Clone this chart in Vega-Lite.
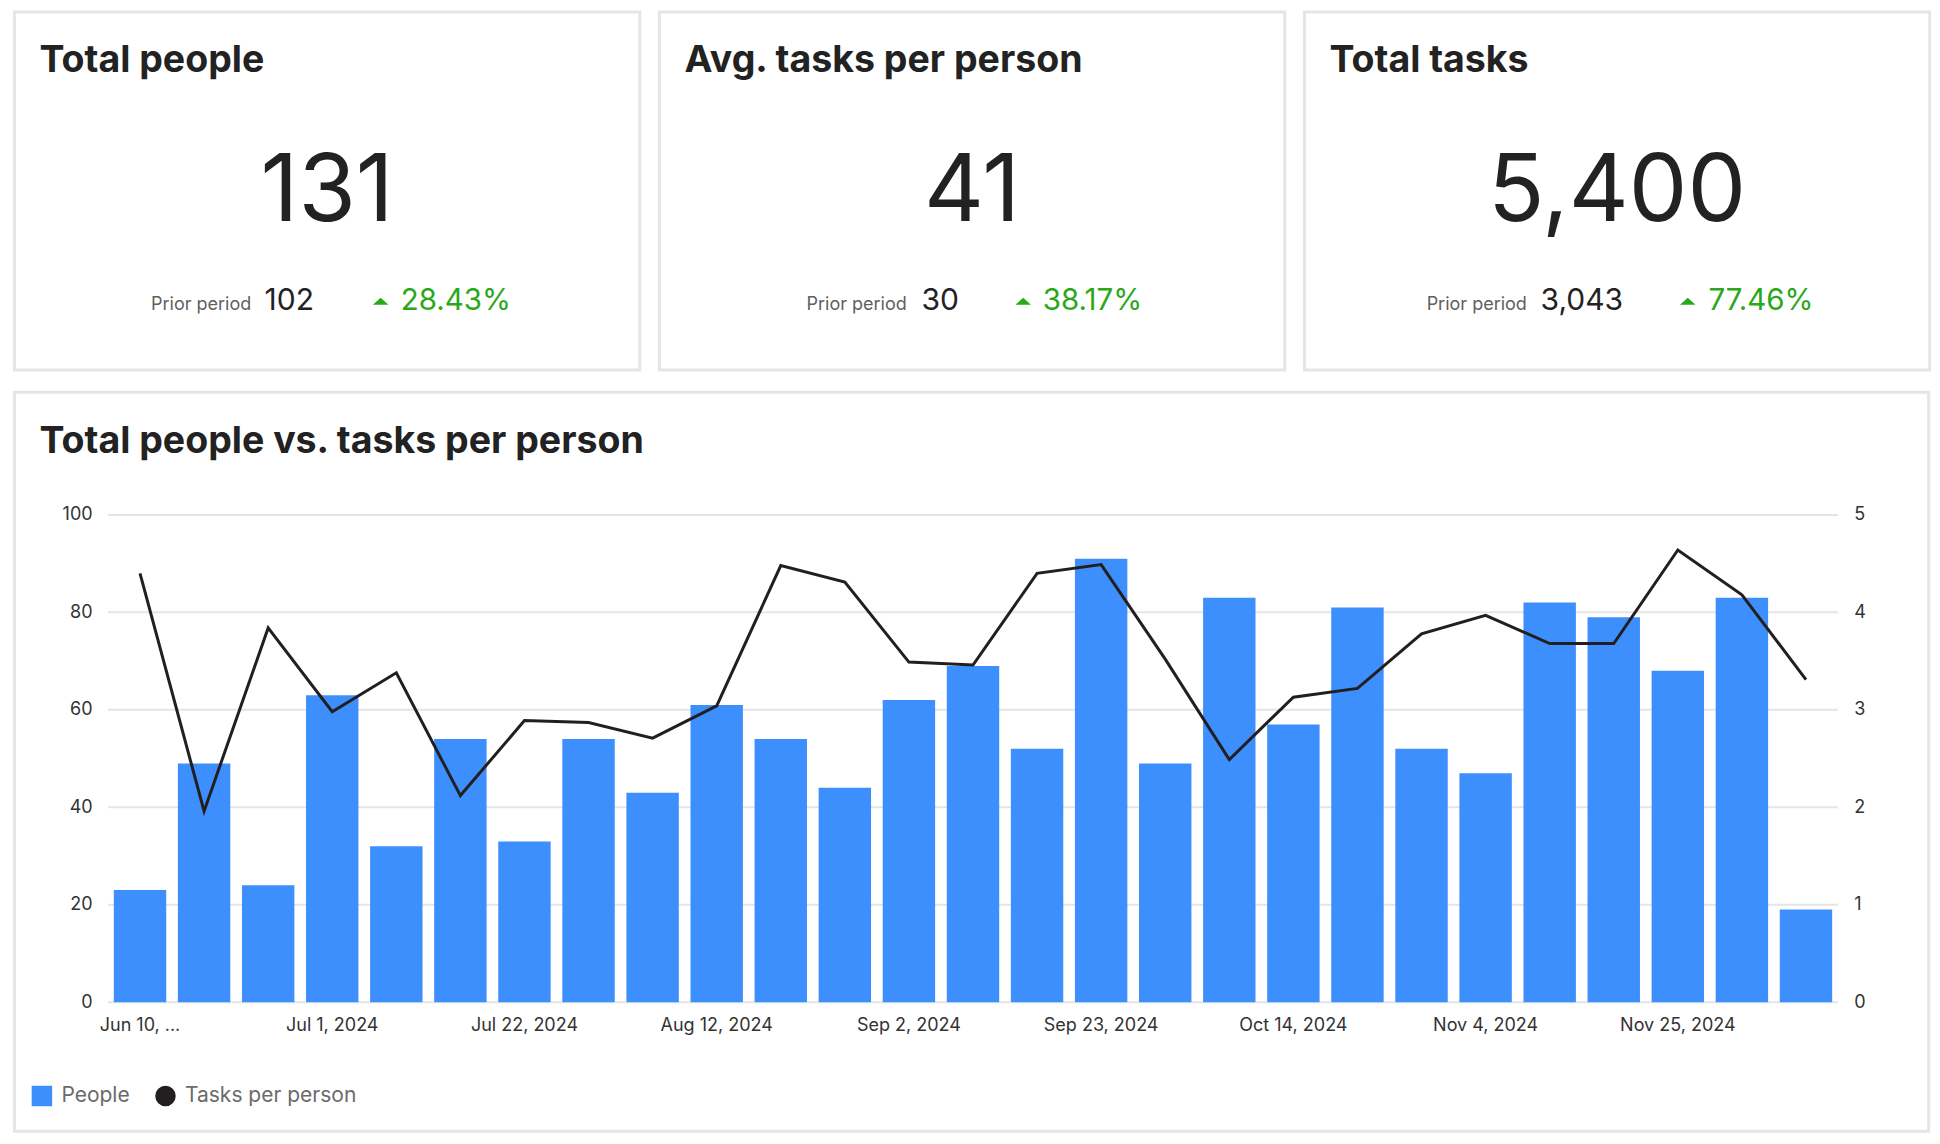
{
  "$schema": "https://vega.github.io/schema/vega-lite/v6.json",
  "background": "white",
  "padding": {"left": 12.4, "top": 9.9, "right": 0, "bottom": 0},
  "config": {
    "view": {"stroke": "#e5e5e5", "strokeWidth": 3},
    "font": "Inter",
    "text": {"font": "Inter"},
    "title": {"anchor": "start", "frame": "group", "offset": -68, "dx": 25, "font": "Inter", "fontSize": 37.5, "fontWeight": "bold", "color": "#222222"},
    "axis": {"labelFont": "Inter", "labelFontSize": 18, "labelColor": "#333333", "title": null, "grid": false, "ticks": false, "tickSize": 0, "domain": false, "zindex": 1}
  },
  "spacing": 18.3,
  "vconcat": [
    {
      "spacing": 16,
      "hconcat": [
        {
          "width": 625.4, "height": 358.2,
          "title": {"text": "Total people"},
          "data": {"values": [{"metric": "Total people", "current": "131", "prior": "102", "change": "28.43%"}]},
          "layer": [
            {"mark": {"type": "text", "fontSize": 93, "color": "#222222", "align": "center", "baseline": "alphabetic"},
             "encoding": {"x": {"datum": 0.5, "type": "quantitative", "scale": {"domain": [0, 1], "nice": false}, "axis": null},
                          "y": {"datum": 0.5827, "type": "quantitative", "scale": {"domain": [0, 1], "nice": false, "reverse": true}, "axis": null},
                          "text": {"field": "current"}}},
            {"mark": {"type": "text", "text": "Prior period", "fontSize": 18, "color": "#5f5f5f", "align": "right", "baseline": "alphabetic"},
             "encoding": {"x": {"datum": 0.3787, "type": "quantitative"}, "y": {"datum": 0.8327, "type": "quantitative"}}},
            {"mark": {"type": "text", "fontSize": 30, "color": "#222222", "align": "left", "baseline": "alphabetic"},
             "encoding": {"x": {"datum": 0.400, "type": "quantitative"}, "y": {"datum": 0.8327, "type": "quantitative"}, "text": {"field": "prior"}}},
            {"mark": {"type": "point", "shape": "M-1,0.45L0,-0.45L1,0.45Z", "filled": true, "color": "#2aa81a", "opacity": 1, "size": 240},
             "encoding": {"x": {"datum": 0.5856, "type": "quantitative"}, "y": {"datum": 0.8075, "type": "quantitative"}}},
            {"mark": {"type": "text", "fontSize": 29.5, "color": "#2aa81a", "align": "left", "baseline": "alphabetic"},
             "encoding": {"x": {"datum": 0.6176, "type": "quantitative"}, "y": {"datum": 0.8327, "type": "quantitative"}, "text": {"field": "change"}}}
          ]
        },
        {
          "width": 625.4, "height": 358.2,
          "title": {"text": "Avg. tasks per person"},
          "data": {"values": [{"metric": "Avg. tasks per person", "current": "41", "prior": "30", "change": "38.17%"}]},
          "layer": [
            {"mark": {"type": "text", "fontSize": 93, "color": "#222222", "align": "center", "baseline": "alphabetic"},
             "encoding": {"x": {"datum": 0.5, "type": "quantitative", "scale": {"domain": [0, 1], "nice": false}, "axis": null},
                          "y": {"datum": 0.5827, "type": "quantitative", "scale": {"domain": [0, 1], "nice": false, "reverse": true}, "axis": null},
                          "text": {"field": "current"}}},
            {"mark": {"type": "text", "text": "Prior period", "fontSize": 18, "color": "#5f5f5f", "align": "right", "baseline": "alphabetic"},
             "encoding": {"x": {"datum": 0.3955, "type": "quantitative"}, "y": {"datum": 0.8327, "type": "quantitative"}}},
            {"mark": {"type": "text", "fontSize": 30, "color": "#222222", "align": "left", "baseline": "alphabetic"},
             "encoding": {"x": {"datum": 0.419, "type": "quantitative"}, "y": {"datum": 0.8327, "type": "quantitative"}, "text": {"field": "prior"}}},
            {"mark": {"type": "point", "shape": "M-1,0.45L0,-0.45L1,0.45Z", "filled": true, "color": "#2aa81a", "opacity": 1, "size": 240},
             "encoding": {"x": {"datum": 0.5817, "type": "quantitative"}, "y": {"datum": 0.8075, "type": "quantitative"}}},
            {"mark": {"type": "text", "fontSize": 29.5, "color": "#2aa81a", "align": "left", "baseline": "alphabetic"},
             "encoding": {"x": {"datum": 0.613, "type": "quantitative"}, "y": {"datum": 0.8327, "type": "quantitative"}, "text": {"field": "change"}}}
          ]
        },
        {
          "width": 625.4, "height": 358.2,
          "title": {"text": "Total tasks"},
          "data": {"values": [{"metric": "Total tasks", "current": "5,400", "prior": "3,043", "change": "77.46%"}]},
          "layer": [
            {"mark": {"type": "text", "fontSize": 93, "color": "#222222", "align": "center", "baseline": "alphabetic"},
             "encoding": {"x": {"datum": 0.5, "type": "quantitative", "scale": {"domain": [0, 1], "nice": false}, "axis": null},
                          "y": {"datum": 0.5827, "type": "quantitative", "scale": {"domain": [0, 1], "nice": false, "reverse": true}, "axis": null},
                          "text": {"field": "current"}}},
            {"mark": {"type": "text", "text": "Prior period", "fontSize": 18, "color": "#5f5f5f", "align": "right", "baseline": "alphabetic"},
             "encoding": {"x": {"datum": 0.3557, "type": "quantitative"}, "y": {"datum": 0.8327, "type": "quantitative"}}},
            {"mark": {"type": "text", "fontSize": 30, "color": "#222222", "align": "left", "baseline": "alphabetic"},
             "encoding": {"x": {"datum": 0.3777, "type": "quantitative"}, "y": {"datum": 0.8327, "type": "quantitative"}, "text": {"field": "prior"}}},
            {"mark": {"type": "point", "shape": "M-1,0.45L0,-0.45L1,0.45Z", "filled": true, "color": "#2aa81a", "opacity": 1, "size": 240},
             "encoding": {"x": {"datum": 0.613, "type": "quantitative"}, "y": {"datum": 0.8075, "type": "quantitative"}}},
            {"mark": {"type": "text", "fontSize": 29.5, "color": "#2aa81a", "align": "left", "baseline": "alphabetic"},
             "encoding": {"x": {"datum": 0.646, "type": "quantitative"}, "y": {"datum": 0.8327, "type": "quantitative"}, "text": {"field": "change"}}}
          ]
        }
      ]
    },
    {
      "width": 1914.3, "height": 739,
      "title": {"text": "Total people vs. tasks per person"},
      "data": {"values": [
        {"week": "Jun 10, 2024", "people": 23, "tasks_per_person": 4.40},
        {"week": "Jun 17, 2024", "people": 49, "tasks_per_person": 1.96},
        {"week": "Jun 24, 2024", "people": 24, "tasks_per_person": 3.84},
        {"week": "Jul 1, 2024", "people": 63, "tasks_per_person": 2.98},
        {"week": "Jul 8, 2024", "people": 32, "tasks_per_person": 3.38},
        {"week": "Jul 15, 2024", "people": 54, "tasks_per_person": 2.12},
        {"week": "Jul 22, 2024", "people": 33, "tasks_per_person": 2.89},
        {"week": "Jul 29, 2024", "people": 54, "tasks_per_person": 2.87},
        {"week": "Aug 5, 2024", "people": 43, "tasks_per_person": 2.71},
        {"week": "Aug 12, 2024", "people": 61, "tasks_per_person": 3.04},
        {"week": "Aug 19, 2024", "people": 54, "tasks_per_person": 4.48},
        {"week": "Aug 26, 2024", "people": 44, "tasks_per_person": 4.31},
        {"week": "Sep 2, 2024", "people": 62, "tasks_per_person": 3.49},
        {"week": "Sep 9, 2024", "people": 69, "tasks_per_person": 3.46},
        {"week": "Sep 16, 2024", "people": 52, "tasks_per_person": 4.40},
        {"week": "Sep 23, 2024", "people": 91, "tasks_per_person": 4.49},
        {"week": "Sep 30, 2024", "people": 49, "tasks_per_person": 3.52},
        {"week": "Oct 7, 2024", "people": 83, "tasks_per_person": 2.49},
        {"week": "Oct 14, 2024", "people": 57, "tasks_per_person": 3.13},
        {"week": "Oct 21, 2024", "people": 81, "tasks_per_person": 3.22},
        {"week": "Oct 28, 2024", "people": 52, "tasks_per_person": 3.78},
        {"week": "Nov 4, 2024", "people": 47, "tasks_per_person": 3.97},
        {"week": "Nov 11, 2024", "people": 82, "tasks_per_person": 3.68},
        {"week": "Nov 18, 2024", "people": 79, "tasks_per_person": 3.68},
        {"week": "Nov 25, 2024", "people": 68, "tasks_per_person": 4.64},
        {"week": "Dec 2, 2024", "people": 83, "tasks_per_person": 4.18},
        {"week": "Dec 9, 2024", "people": 19, "tasks_per_person": 3.31}
      ]},
      "encoding": {
        "x": {"field": "week", "type": "ordinal", "sort": null,
              "scale": {"domain": ["Jun 10, 2024","Jun 17, 2024","Jun 24, 2024","Jul 1, 2024","Jul 8, 2024","Jul 15, 2024","Jul 22, 2024","Jul 29, 2024","Aug 5, 2024","Aug 12, 2024","Aug 19, 2024","Aug 26, 2024","Sep 2, 2024","Sep 9, 2024","Sep 16, 2024","Sep 23, 2024","Sep 30, 2024","Oct 7, 2024","Oct 14, 2024","Oct 21, 2024","Oct 28, 2024","Nov 4, 2024","Nov 11, 2024","Nov 18, 2024","Nov 25, 2024","Dec 2, 2024","Dec 9, 2024"],
                        "range": [99.4, 1817.8], "paddingInner": 0.182, "paddingOuter": 0},
              "axis": {"values": ["Jun 10, 2024","Jul 1, 2024","Jul 22, 2024","Aug 12, 2024","Sep 2, 2024","Sep 23, 2024","Oct 14, 2024","Nov 4, 2024","Nov 25, 2024"],
                       "labelExpr": "datum.value === 'Jun 10, 2024' ? 'Jun 10, ...' : datum.label",
                       "offset": -129, "labelPadding": 14, "labelAngle": 0, "labelBaseline": "top", "labelOverlap": false, "labelFlush": false}}
      },
      "layer": [
        {
          "data": {"values": [{"v": 0}, {"v": 20}, {"v": 40}, {"v": 60}, {"v": 80}, {"v": 100}]},
          "mark": {"type": "rule", "color": "#e5e5e5", "strokeWidth": 2, "xOffset": -32.04, "x2Offset": 32.04},
          "encoding": {
            "x": {"datum": "Jun 10, 2024", "type": "ordinal"},
            "x2": {"datum": "Dec 9, 2024"},
            "y": {"field": "v", "type": "quantitative", "scale": {"domain": [-26.47, 125.18], "nice": false, "zero": false}, "axis": null}
          }
        },
        {
          "mark": {"type": "bar"},
          "encoding": {
            "y": {"field": "people", "type": "quantitative", "scale": {"domain": [-26.47, 125.18], "nice": false, "zero": false},
                  "axis": {"values": [0, 20, 40, 60, 80, 100], "offset": -77.7, "labelPadding": 0}},
            "y2": {"datum": 0},
            "color": {"datum": "People", "type": "nominal",
                      "scale": {"domain": ["People", "Tasks per person"], "range": ["#3d8ffd", "#231f20"]},
                      "legend": {"orient": "none", "legendX": 17, "legendY": 1073.7, "direction": "horizontal", "title": null,
                                 "labelFont": "Inter", "labelFontSize": 21, "labelColor": "#6b6b6b", "labelLimit": 400, "symbolSize": 361,
                                 "labelOffset": 9, "columnPadding": 22.6, "padding": 0,
                                 "encode": {"symbols": {"update": {
                                   "shape": {"signal": "datum.value === 'People' ? 'square' : 'circle'"},
                                   "fill": {"scale": "color", "field": "value"},
                                   "stroke": {"value": "transparent"},
                                   "opacity": {"value": 1}}}}}}
          }
        },
        {
          "mark": {"type": "line", "strokeWidth": 3},
          "encoding": {
            "y": {"field": "tasks_per_person", "type": "quantitative", "scale": {"domain": [-1.3235, 6.259], "nice": false, "zero": false},
                  "axis": {"orient": "right", "values": [0, 1, 2, 3, 4, 5], "offset": -74.9, "labelPadding": 0}},
            "color": {"datum": "Tasks per person", "type": "nominal"}
          }
        }
      ],
      "resolve": {"scale": {"y": "independent"}, "axis": {"y": "independent"}}
    }
  ]
}
